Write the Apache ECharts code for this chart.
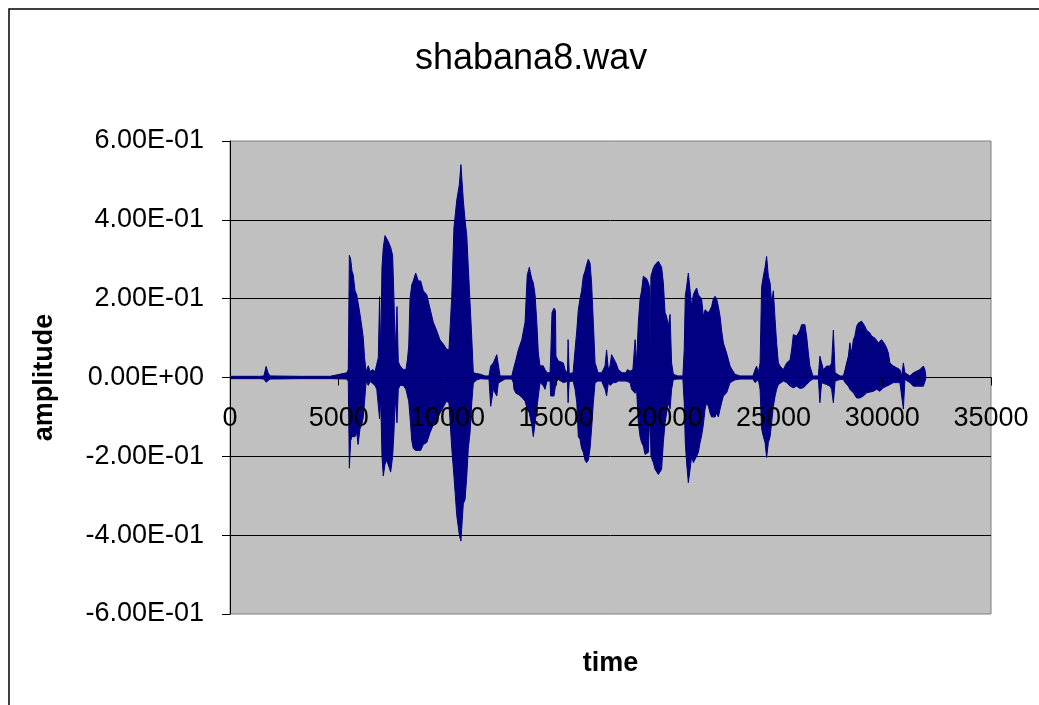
<!DOCTYPE html>
<html>
<head>
<meta charset="utf-8">
<title>shabana8.wav</title>
<script src="https://cdn.jsdelivr.net/npm/echarts@6/dist/echarts.min.js"></script>
<style>
  html, body { margin: 0; padding: 0; background: #fff; }
  #chart { width: 1039px; height: 705px; }
</style>
</head>
<body>
<div id="chart"></div>
<script>
// Waveform envelope of shabana8.wav: sample index, peak (upper) and trough (lower) amplitude.
const sampleTime = [
  0, 1380, 1560, 1660, 1750, 1840, 3220, 4600, 5370, 5440,
  5490, 5550, 5610, 5670, 5750, 5830, 5890, 5980, 6060, 6130,
  6190, 6260, 6360, 6440, 6560, 6670, 6750, 6820, 6880, 6930,
  6990, 7050, 7130, 7210, 7280, 7390, 7480, 7540, 7600, 7680,
  7740, 7820, 7970, 8090, 8160, 8220, 8280, 8360, 8430, 8540,
  8660, 8770, 8890, 9050, 9200, 9350, 9500, 9660, 9810, 9960,
  10070, 10200, 10300, 10430, 10550, 10620, 10730, 10810, 10890, 10960,
  11040, 11120, 11190, 11350, 11530, 11730, 11910, 11990, 12110, 12270,
  12340, 12420, 12650, 12960, 13030, 13060, 13150, 13260, 13420, 13570,
  13670, 13770, 13800, 13880, 13950, 14030, 14110, 14180, 14260, 14400,
  14490, 14580, 14720, 14750, 14810, 14900, 14970, 14990, 15100, 15180,
  15330, 15410, 15520, 15550, 15600, 15780, 15870, 15950, 16020, 16100,
  16170, 16250, 16330, 16400, 16480, 16560, 16630, 16710, 16790, 16930,
  17090, 17170, 17250, 17320, 17400, 17480, 17550, 17630, 17750, 17860,
  18030, 18210, 18280, 18400, 18470, 18530, 18630, 18700, 18780, 18860,
  18930, 19010, 19090, 19170, 19240, 19290, 19320, 19360, 19470, 19550,
  19620, 19700, 19780, 19850, 19930, 20010, 20080, 20160, 20240, 20310,
  20390, 20600, 20830, 20890, 20940, 21000, 21080, 21160, 21230, 21310,
  21390, 21460, 21540, 21620, 21690, 21770, 21850, 21920, 22000, 22080,
  22150, 22230, 22310, 22380, 22460, 22540, 22610, 22690, 22840, 23000,
  23090, 23230, 23460, 23920, 24050, 24150, 24220, 24300, 24380, 24450,
  24530, 24610, 24680, 24760, 24840, 24910, 24990, 25070, 25140, 25220,
  25300, 25450, 25600, 25680, 25760, 25830, 25910, 25990, 26060, 26140,
  26210, 26290, 26370, 26440, 26520, 26600, 26670, 26810, 27060, 27130,
  27210, 27290, 27440, 27600, 27670, 27750, 27830, 28060, 28210, 28290,
  28360, 28440, 28510, 28590, 28670, 28740, 28820, 28900, 28970, 29050,
  29130, 29200, 29280, 29360, 29430, 29510, 29590, 29660, 29740, 29820,
  29890, 29970, 30050, 30120, 30200, 30280, 30350, 30430, 30510, 30580,
  30660, 30740, 30810, 30890, 30970, 31040, 31120, 31270, 31350, 31430,
  31500, 31580, 31660, 31730, 31810, 31890, 31960, 32010
];

const upperAmp = [
  0.003, 0.003, 0.004, 0.028, 0.012, 0.004, 0.003, 0.003, 0.012, 0.02,
  0.31, 0.30, 0.27, 0.26, 0.22, 0.21, 0.19, 0.16, 0.13, 0.10,
  0.05, 0.015, 0.03, 0.015, 0.02, 0.015, 0.02, 0.05, 0.205, 0.06,
  0.28, 0.33, 0.36, 0.355, 0.345, 0.33, 0.31, 0.20, 0.07, 0.18,
  0.04, 0.03, 0.02, 0.02, 0.045, 0.08, 0.20, 0.235, 0.245, 0.265,
  0.245, 0.245, 0.22, 0.21, 0.175, 0.14, 0.12, 0.095, 0.085, 0.072,
  0.07, 0.206, 0.38, 0.45, 0.49, 0.54, 0.45, 0.40, 0.36, 0.28,
  0.19, 0.10, 0.012, 0.01, 0.008, 0.004, 0.004, 0.029, 0.037, 0.058,
  0.054, 0.004, 0.004, 0.004, 0.02, 0.02, 0.045, 0.07, 0.096, 0.14,
  0.26, 0.28, 0.27, 0.25, 0.24, 0.21, 0.14, 0.062, 0.029, 0.03,
  0.02, 0.012, 0.012, 0.054, 0.164, 0.176, 0.17, 0.054, 0.042, 0.04,
  0.037, 0.02, 0.01, 0.096, 0.01, 0.012, 0.07, 0.12, 0.172, 0.20,
  0.22, 0.257, 0.27, 0.286, 0.30, 0.29, 0.24, 0.14, 0.037, 0.012,
  0.012, 0.02, 0.03, 0.07, 0.02, 0.03, 0.058, 0.054, 0.037, 0.02,
  0.012, 0.012, 0.02, 0.016, 0.02, 0.02, 0.096, 0.037, 0.14, 0.20,
  0.22, 0.257, 0.26, 0.25, 0.24, 0.23, 0.08, 0.257, 0.278, 0.286,
  0.29, 0.295, 0.30, 0.28, 0.24, 0.164, 0.155, 0.13, 0.16, 0.037,
  0.008, 0.004, 0.004, 0.07, 0.206, 0.23, 0.265, 0.22, 0.18, 0.21,
  0.22, 0.227, 0.21, 0.206, 0.20, 0.155, 0.172, 0.176, 0.164, 0.172,
  0.18, 0.20, 0.206, 0.20, 0.18, 0.155, 0.12, 0.088, 0.062, 0.029,
  0.02, 0.008, 0.004, 0.004, 0.004, 0.02, 0.029, 0.012, 0.037, 0.23,
  0.257, 0.28, 0.307, 0.257, 0.24, 0.19, 0.22, 0.147, 0.088, 0.037,
  0.029, 0.02, 0.037, 0.042, 0.045, 0.07, 0.109, 0.109, 0.105, 0.113,
  0.12, 0.134, 0.138, 0.134, 0.105, 0.062, 0.029, 0.004, 0.004, 0.054,
  0.058, 0.02, 0.029, 0.029, 0.037, 0.12, 0.012, 0.004, 0.004, 0.02,
  0.037, 0.054, 0.088, 0.062, 0.096, 0.105, 0.13, 0.138, 0.143, 0.143,
  0.138, 0.13, 0.12, 0.117, 0.113, 0.105, 0.109, 0.10, 0.096, 0.088,
  0.088, 0.096, 0.092, 0.084, 0.075, 0.062, 0.037, 0.037, 0.029, 0.029,
  0.025, 0.02, 0.02, 0.004, 0.037, 0.012, 0.008, 0.004, 0.008, 0.012,
  0.012, 0.016, 0.02, 0.02, 0.025, 0.029, 0.02, 0.002
];

const lowerAmp = [
  -0.003, -0.003, -0.004, -0.012, -0.008, -0.004, -0.003, -0.003, -0.004, -0.01,
  -0.23, -0.16, -0.15, -0.15, -0.15, -0.14, -0.17, -0.13, -0.12, -0.10,
  -0.06, -0.01, -0.02, -0.01, -0.015, -0.02, -0.03, -0.03, -0.105, -0.05,
  -0.20, -0.25, -0.22, -0.21, -0.21, -0.24, -0.20, -0.14, -0.05, -0.115,
  -0.03, -0.02, -0.02, -0.03, -0.03, -0.06, -0.10, -0.16, -0.18, -0.185,
  -0.185, -0.185, -0.17, -0.165, -0.14, -0.12, -0.11, -0.09, -0.075, -0.06,
  -0.065, -0.18, -0.25, -0.35, -0.40, -0.415, -0.32, -0.31, -0.25, -0.18,
  -0.14, -0.064, -0.014, -0.006, -0.003, -0.004, -0.004, -0.073, -0.03, -0.047,
  -0.014, -0.01, -0.004, -0.004, -0.013, -0.03, -0.04, -0.043, -0.05, -0.06,
  -0.08, -0.09, -0.10, -0.12, -0.15, -0.145, -0.08, -0.047, -0.013, -0.02,
  -0.03, -0.009, -0.009, -0.047, -0.047, -0.047, -0.047, -0.013, -0.005, -0.006,
  -0.013, -0.013, -0.01, -0.064, -0.01, -0.009, -0.03, -0.064, -0.15, -0.157,
  -0.18, -0.19, -0.21, -0.216, -0.21, -0.18, -0.13, -0.064, -0.013, -0.009,
  -0.009, -0.013, -0.03, -0.047, -0.013, -0.02, -0.022, -0.013, -0.013, -0.009,
  -0.009, -0.009, -0.013, -0.013, -0.03, -0.03, -0.04, -0.03, -0.115, -0.15,
  -0.165, -0.174, -0.195, -0.195, -0.19, -0.19, -0.08, -0.20, -0.216, -0.233,
  -0.233, -0.246, -0.246, -0.233, -0.165, -0.115, -0.09, -0.064, -0.08, -0.03,
  -0.005, -0.004, -0.004, -0.064, -0.165, -0.216, -0.267, -0.233, -0.20, -0.216,
  -0.22, -0.20, -0.19, -0.165, -0.148, -0.12, -0.08, -0.064, -0.073, -0.09,
  -0.10, -0.10, -0.10, -0.09, -0.10, -0.08, -0.064, -0.047, -0.039, -0.013,
  -0.009, -0.006, -0.004, -0.004, -0.004, -0.013, -0.018, -0.005, -0.03, -0.13,
  -0.15, -0.165, -0.203, -0.165, -0.15, -0.115, -0.073, -0.047, -0.03, -0.018,
  -0.013, -0.009, -0.013, -0.018, -0.022, -0.022, -0.026, -0.026, -0.022, -0.026,
  -0.028, -0.028, -0.026, -0.024, -0.018, -0.013, -0.009, -0.004, -0.004, -0.064,
  -0.013, -0.013, -0.018, -0.022, -0.03, -0.064, -0.009, -0.005, -0.005, -0.013,
  -0.018, -0.022, -0.03, -0.03, -0.039, -0.043, -0.052, -0.056, -0.052, -0.047,
  -0.047, -0.047, -0.039, -0.039, -0.037, -0.035, -0.035, -0.035, -0.03, -0.03,
  -0.035, -0.03, -0.026, -0.026, -0.022, -0.018, -0.018, -0.013, -0.013, -0.018,
  -0.013, -0.013, -0.013, -0.013, -0.08, -0.005, -0.009, -0.013, -0.018, -0.022,
  -0.022, -0.022, -0.024, -0.022, -0.022, -0.022, -0.018, -0.002
];

// Axis ranges
const timeMin = 0, timeMax = 35000, timeStep = 5000;
const ampMin = -0.6, ampMax = 0.6, ampStep = 0.2;

const WAVE = '#000080';
const FONT = 'Liberation Sans, Arial, sans-serif';

// Plot box in pixels; the time axis sits on the zero amplitude line, half way down.
const PLOT = { left: 230, top: 141, width: 761, height: 473 };

// Spreadsheet-style scientific labels: 6.00E-01, 0.00E+00
function sci(v) {
  const s = Number(v).toExponential(2);
  return s.replace(/e([+-])(\d+)$/, (m, sign, exp) => 'E' + sign + exp.padStart(2, '0'));
}

const upperData = sampleTime.map((t, i) => [t, upperAmp[i]]);
const lowerData = sampleTime.map((t, i) => [t, lowerAmp[i]]);

const chart = echarts.init(document.getElementById('chart'), null, { renderer: 'canvas' });

const waveSeries = (name, data) => ({
  name,
  type: 'line',
  data,
  showSymbol: false,
  symbol: 'none',
  sampling: null,
  smooth: false,
  lineStyle: { color: WAVE, width: 1 },
  areaStyle: { color: WAVE, opacity: 1, origin: 'auto' },
  z: 2
});

chart.setOption({
  animation: false,
  backgroundColor: '#ffffff',
  title: {
    text: 'shabana8.wav',
    left: 410,
    top: 36,
    textStyle: { fontFamily: FONT, fontSize: 36, fontWeight: 'normal', color: '#000' }
  },
  graphic: [{
    type: 'rect',
    shape: { x: 9, y: 9, width: 1100, height: 800 },
    style: { fill: 'none', stroke: '#000', lineWidth: 1.5 },
    silent: true
  }],
  grid: {
    left: PLOT.left, top: PLOT.top, width: PLOT.width, height: PLOT.height,
    containLabel: false,
    outerBoundsMode: 'none',
    show: true,
    backgroundColor: '#c0c0c0',
    borderColor: '#808080',
    borderWidth: 1
  },
  xAxis: {
    type: 'value',
    min: timeMin, max: timeMax, interval: timeStep,
    z: 3,
    // lift the axis from the bottom edge up to amplitude 0 (mid-height of a symmetric range)
    offset: -PLOT.height / 2,
    axisLine: { show: true, onZero: false, lineStyle: { color: '#000', width: 1 } },
    axisTick: { show: true, inside: false, length: 8, lineStyle: { color: '#000' } },
    axisLabel: { color: '#000', fontFamily: FONT, fontSize: 27, margin: 28, formatter: v => String(v) },
    splitLine: { show: false },
    name: 'time',
    nameLocation: 'middle',
    nameGap: 273,
    nameTextStyle: { fontFamily: FONT, fontSize: 27, fontWeight: 'bold', color: '#000' }
  },
  yAxis: {
    type: 'value',
    min: ampMin, max: ampMax, interval: ampStep,
    axisLine: { show: true, onZero: false, lineStyle: { color: '#000', width: 1 } },
    axisTick: { show: true, inside: false, length: 8, lineStyle: { color: '#000' } },
    axisLabel: { color: '#000', fontFamily: FONT, fontSize: 27, margin: 26, formatter: sci },
    splitLine: { show: true, showMinLine: false, showMaxLine: false, lineStyle: { color: '#000', width: 1 } },
    name: 'amplitude',
    nameLocation: 'middle',
    nameRotate: 90,
    nameGap: 172,
    nameTextStyle: { fontFamily: FONT, fontSize: 27, fontWeight: 'bold', color: '#000' }
  },
  series: [
    waveSeries('peak', upperData),
    waveSeries('trough', lowerData)
  ]
});
</script>
</body>
</html>
